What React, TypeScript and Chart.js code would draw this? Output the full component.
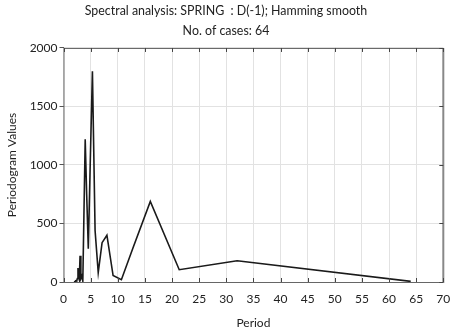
import React, { useEffect, useRef } from "react";
import { Chart, registerables } from "chart.js";

Chart.register(...registerables);

const titleLines = ["Spectral analysis: SPRING  : D(-1); Hamming smooth", "No. of cases: 64"];
const xTitle = "Period";
const yTitle = "Periodogram Values";

// Periods (64 / k) and periodogram values
const periods = [
  2.0, 2.06, 2.13, 2.21, 2.29, 2.37, 2.46, 2.56, 2.67, 2.78, 2.91, 3.05, 3.2, 3.37, 3.56, 3.76,
  4.0, 4.27, 4.57, 4.92, 5.33, 5.82, 6.4, 7.11, 8.0, 9.14, 10.67, 12.8, 16.0, 21.33, 32.0, 64.0,
];
const values = [
  0, 2, 4, 6, 10, 8, 15, 30, 120, 40, 20, 225, 30, 50, 8, 560,
  1220, 750, 285, 1000, 1800, 440, 80, 336, 400, 55, 20, 290, 688, 105, 182, 5,
];

const xTicks = [0, 5, 10, 15, 20, 25, 30, 35, 40, 45, 50, 55, 60, 65, 70];
const yTicks = [0, 500, 1000, 1500, 2000];

const FONT = "Lato, 'Open Sans', sans-serif";

const framePlugin = {
  id: "frame",
  afterDatasetsDraw(chart: any) {
    const { ctx, chartArea } = chart;
    const { left, right, top, bottom } = chartArea;
    const xs = chart.scales.x;
    const ys = chart.scales.y;
    ctx.save();
    ctx.strokeStyle = "#666";
    ctx.lineWidth = 1;
    ctx.beginPath();
    ctx.moveTo(left + 0.5, top + 0.5);
    ctx.lineTo(right, top + 0.5);
    ctx.moveTo(left + 0.5, top);
    ctx.lineTo(left + 0.5, bottom);
    ctx.moveTo(left, bottom + 0.5);
    ctx.lineTo(right, bottom + 0.5);
    ctx.stroke();
    ctx.strokeStyle = "#888";
    ctx.lineWidth = 2;
    ctx.beginPath();
    ctx.moveTo(right, top);
    ctx.lineTo(right, bottom + 1);
    ctx.stroke();
    ctx.strokeStyle = "#444";
    ctx.lineWidth = 1;
    ctx.beginPath();
    xTicks.forEach((v) => {
      const px = Math.round(xs.getPixelForValue(v)) + 0.5;
      ctx.moveTo(px, top);
      ctx.lineTo(px, top + 4);
      ctx.moveTo(px, bottom);
      ctx.lineTo(px, bottom - 4);
    });
    yTicks.forEach((v) => {
      const py = Math.round(ys.getPixelForValue(v)) + 0.5;
      ctx.moveTo(right, py);
      ctx.lineTo(right - 4, py);
    });
    ctx.stroke();
    ctx.restore();
  },
};

export default function App() {
  const ref = useRef<HTMLCanvasElement | null>(null);
  useEffect(() => {
    if (!ref.current) return;
    const chart = new Chart(ref.current, {
      type: "line",
      data: {
        datasets: [
          {
            data: periods.map((p, i) => ({ x: p, y: values[i] })),
            borderColor: "#1a1a1a",
            borderWidth: 1.6,
            pointRadius: 0,
            tension: 0,
            fill: false,
          },
        ],
      },
      options: {
        animation: false,
        responsive: true,
        maintainAspectRatio: false,
        layout: { padding: { left: 0, right: 0, top: 0, bottom: 0 } },
        plugins: {
          legend: { display: false },
          tooltip: { enabled: false },
          title: {
            display: true,
            text: titleLines,
            color: "#222",
            font: { family: FONT, size: 12.4, weight: "normal", lineHeight: 1.6 },
            padding: { top: 1, bottom: 7.3 },
          },
        },
        scales: {
          x: {
            type: "linear",
            min: 0,
            max: 70,
            afterBuildTicks: (s: any) => {
              s.ticks = xTicks.map((v) => ({ value: v }));
            },
            afterFit: (s: any) => {
              s.height = 53;
              s.paddingRight = 8.7;
            },
            ticks: {
              color: "#222",
              font: { family: FONT, size: 12 },
              padding: 10,
              maxRotation: 0,
              autoSkip: false,
            },
            grid: { color: "#e2e2e2", lineWidth: 1, drawTicks: false },
            border: { display: false },
            title: {
              display: true,
              text: xTitle,
              color: "#222",
              font: { family: FONT, size: 12 },
              padding: { top: 0, bottom: 5 },
            },
          },
          y: {
            min: 0,
            max: 2000,
            afterBuildTicks: (s: any) => {
              s.ticks = yTicks.map((v) => ({ value: v }));
            },
            afterFit: (s: any) => {
              s.width = 63.5;
            },
            ticks: {
              color: "#222",
              font: { family: FONT, size: 12 },
              padding: 2,
              callback: (v: any) => String(v),
            },
            grid: { color: "#e2e2e2", lineWidth: 1, tickLength: 4, tickColor: "#555" },
            border: { display: false },
            title: {
              display: true,
              text: yTitle,
              color: "#222",
              font: { family: FONT, size: 12 },
              padding: { top: 5, bottom: 0 },
            },
          },
        },
      },
      plugins: [framePlugin],
    });
    return () => chart.destroy();
  }, []);
  return (
    <div style={{ position: "absolute", left: 0, top: 0, width: 452, height: 335, background: "#fff" }}>
      <canvas ref={ref} />
    </div>
  );
}
